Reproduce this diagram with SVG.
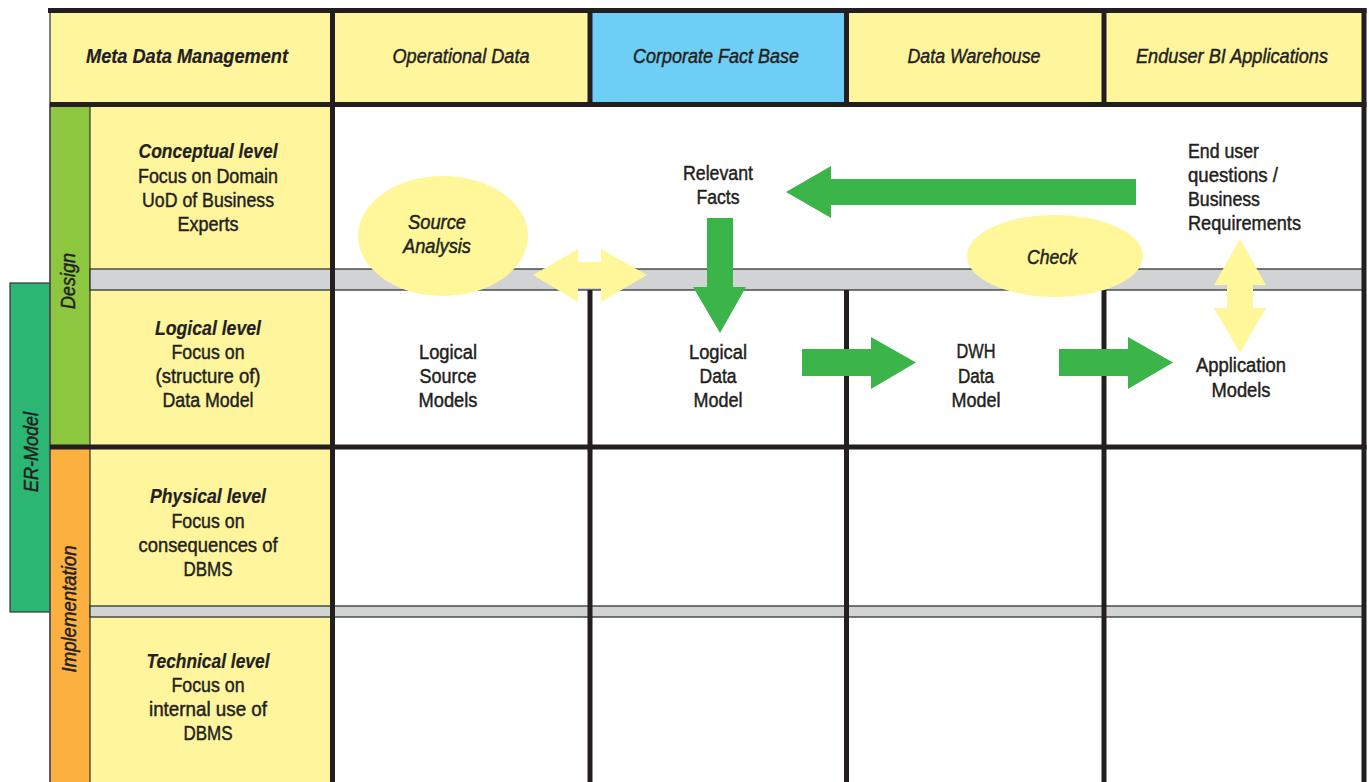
<svg xmlns="http://www.w3.org/2000/svg" width="1369" height="782" viewBox="0 0 1369 782">
<style>
.t{font-family:"Liberation Sans",Arial,sans-serif;font-size:20px;fill:#231f20;stroke:#231f20;stroke-width:0.45px;text-anchor:middle}
.l{text-anchor:start}
.i{font-style:italic}
.b{font-weight:bold;stroke-width:0.2px}
.yel{fill:#fff59d}
.thick{stroke:#231f20;stroke-width:5;fill:none}
.band{fill:#d1d3d4;stroke:#333;stroke-width:1.3}
.garrow{fill:#3bb54a}
.yarrow{fill:#fff799}
.ell{fill:#fff799}
</style>
<rect width="1369" height="782" fill="#fff"/>

<g id="header">
  <g id="h-meta"><rect class="yel" x="50" y="10" width="282" height="94"/><text class="t i b" x="187" y="63" textLength="202" lengthAdjust="spacingAndGlyphs">Meta Data Management</text></g>
  <g id="h-operational"><rect class="yel" x="332" y="10" width="258" height="94"/><text class="t i" x="461" y="63" textLength="137" lengthAdjust="spacingAndGlyphs">Operational Data</text></g>
  <g id="h-corporate"><rect fill="#6dcff6" x="590" y="10" width="257" height="94"/><text class="t i" x="716" y="63" textLength="166" lengthAdjust="spacingAndGlyphs">Corporate Fact Base</text></g>
  <g id="h-dwh"><rect class="yel" x="847" y="10" width="257" height="94"/><text class="t i" x="974" y="63" textLength="133" lengthAdjust="spacingAndGlyphs">Data Warehouse</text></g>
  <g id="h-enduser"><rect class="yel" x="1104" y="10" width="260" height="94"/><text class="t i" x="1232" y="63" textLength="192" lengthAdjust="spacingAndGlyphs">Enduser BI Applications</text></g>
</g>

<g id="labels-bg"><rect class="yel" x="90" y="104" width="242" height="678"/></g>

<g id="er-model">
  <rect x="10" y="283" width="40" height="329" fill="#2bb673" stroke="#333" stroke-width="1.2"/>
  <text class="t i" transform="translate(37.5,452) rotate(-90)" textLength="80" lengthAdjust="spacingAndGlyphs">ER-Model</text>
</g>
<g id="design">
  <rect x="50" y="104.5" width="40" height="342.5" fill="#8dc63f" stroke="#333" stroke-width="1.2"/>
  <text class="t i" transform="translate(74.5,281) rotate(-90)" textLength="56" lengthAdjust="spacingAndGlyphs">Design</text>
</g>
<g id="implementation">
  <rect x="50" y="447" width="40" height="340" fill="#fbb040" stroke="#333" stroke-width="1.2"/>
  <text class="t i" transform="translate(75.5,609) rotate(-90)" textLength="127" lengthAdjust="spacingAndGlyphs">Implementation</text>
</g>

<g id="bands">
  <rect class="band" x="90" y="269" width="1274" height="21"/>
  <rect class="band" x="90" y="606" width="1274" height="11"/>
</g>

<g id="grid">
  <path d="M50,10 V782" stroke="#555" stroke-width="1.5" fill="none"/>
  <path class="thick" d="M48,10.5 H1366.5 M50,104.5 H1366.5 M50,447 H1366.5"/>
  <path class="thick" d="M332.5,8 V782 M1364,8 V782 M590,8 V104.5 M846.5,8 V104.5 M1104,8 V104.5 M590,290 V782 M846.5,290 V782 M1104,290 V782"/>
</g>

<g id="conceptual-level">
  <text class="t i b" x="208" y="158" textLength="139" lengthAdjust="spacingAndGlyphs">Conceptual level</text>
  <text class="t" x="208" y="183" textLength="140" lengthAdjust="spacingAndGlyphs">Focus on Domain</text>
  <text class="t" x="208" y="207" textLength="132" lengthAdjust="spacingAndGlyphs">UoD of Business</text>
  <text class="t" x="208" y="231" textLength="61" lengthAdjust="spacingAndGlyphs">Experts</text>
</g>
<g id="logical-level">
  <text class="t i b" x="208" y="335" textLength="106" lengthAdjust="spacingAndGlyphs">Logical level</text>
  <text class="t" x="208" y="359" textLength="73" lengthAdjust="spacingAndGlyphs">Focus on</text>
  <text class="t" x="208" y="383" textLength="105" lengthAdjust="spacingAndGlyphs">(structure of)</text>
  <text class="t" x="208" y="407" textLength="91" lengthAdjust="spacingAndGlyphs">Data Model</text>
</g>
<g id="physical-level">
  <text class="t i b" x="208" y="503" textLength="116" lengthAdjust="spacingAndGlyphs">Physical level</text>
  <text class="t" x="208" y="528" textLength="73" lengthAdjust="spacingAndGlyphs">Focus on</text>
  <text class="t" x="208" y="552" textLength="139" lengthAdjust="spacingAndGlyphs">consequences of</text>
  <text class="t" x="208" y="576" textLength="49" lengthAdjust="spacingAndGlyphs">DBMS</text>
</g>
<g id="technical-level">
  <text class="t i b" x="208" y="668" textLength="123" lengthAdjust="spacingAndGlyphs">Technical level</text>
  <text class="t" x="208" y="692" textLength="73" lengthAdjust="spacingAndGlyphs">Focus on</text>
  <text class="t" x="208" y="716" textLength="118" lengthAdjust="spacingAndGlyphs">internal use of</text>
  <text class="t" x="208" y="740" textLength="49" lengthAdjust="spacingAndGlyphs">DBMS</text>
</g>

<g id="relevant-facts">
  <text class="t" x="718" y="180" textLength="70" lengthAdjust="spacingAndGlyphs">Relevant</text>
  <text class="t" x="718" y="204" textLength="43" lengthAdjust="spacingAndGlyphs">Facts</text>
</g>
<g id="enduser-questions">
  <text class="t l" x="1188" y="158" textLength="71" lengthAdjust="spacingAndGlyphs">End user</text>
  <text class="t l" x="1188" y="182" textLength="90" lengthAdjust="spacingAndGlyphs">questions /</text>
  <text class="t l" x="1188" y="206" textLength="72" lengthAdjust="spacingAndGlyphs">Business</text>
  <text class="t l" x="1188" y="230" textLength="113" lengthAdjust="spacingAndGlyphs">Requirements</text>
</g>
<g id="logical-source-models">
  <text class="t" x="448" y="359" textLength="58" lengthAdjust="spacingAndGlyphs">Logical</text>
  <text class="t" x="448" y="383" textLength="57" lengthAdjust="spacingAndGlyphs">Source</text>
  <text class="t" x="448" y="407" textLength="59" lengthAdjust="spacingAndGlyphs">Models</text>
</g>
<g id="logical-data-model">
  <text class="t" x="718" y="359" textLength="58" lengthAdjust="spacingAndGlyphs">Logical</text>
  <text class="t" x="718" y="383" textLength="37" lengthAdjust="spacingAndGlyphs">Data</text>
  <text class="t" x="718" y="407" textLength="49" lengthAdjust="spacingAndGlyphs">Model</text>
</g>
<g id="dwh-data-model">
  <text class="t" x="976" y="358" textLength="39" lengthAdjust="spacingAndGlyphs">DWH</text>
  <text class="t" x="976" y="383" textLength="36" lengthAdjust="spacingAndGlyphs">Data</text>
  <text class="t" x="976" y="407" textLength="49" lengthAdjust="spacingAndGlyphs">Model</text>
</g>
<g id="application-models">
  <text class="t" x="1241" y="372" textLength="90" lengthAdjust="spacingAndGlyphs">Application</text>
  <text class="t" x="1241" y="397" textLength="59" lengthAdjust="spacingAndGlyphs">Models</text>
</g>

<g id="source-analysis">
  <ellipse class="ell" cx="443" cy="236" rx="85" ry="60"/>
  <text class="t i" x="437" y="229" textLength="58" lengthAdjust="spacingAndGlyphs">Source</text>
  <text class="t i" x="437" y="253" textLength="68" lengthAdjust="spacingAndGlyphs">Analysis</text>
</g>
<g id="check">
  <ellipse class="ell" cx="1055" cy="256" rx="88" ry="41"/>
  <text class="t i" x="1052" y="264" textLength="50" lengthAdjust="spacingAndGlyphs">Check</text>
</g>

<g id="connectors">
  <polygon class="garrow" points="1136,179 831,179 831,166 786,192 831,218 831,205 1136,205"/>
  <polygon class="garrow" points="707,218 733,218 733,287 746,287 720,333 693,287 707,287"/>
  <polygon class="garrow" points="802,349 871,349 871,337 916,362.5 871,389 871,376 802,376"/>
  <polygon class="garrow" points="1059,349 1128,349 1128,337 1173,362.5 1128,389 1128,376 1059,376"/>
  <polygon class="yarrow" points="533,275 578,249 578,262 601,262 601,249 647,275 601,302 601,288 578,288 578,302"/>
  <polygon class="yarrow" points="1240,239 1266,285 1253,285 1253,308 1266,308 1240,353 1214,308 1227,308 1227,285 1214,285"/>
</g>
</svg>
